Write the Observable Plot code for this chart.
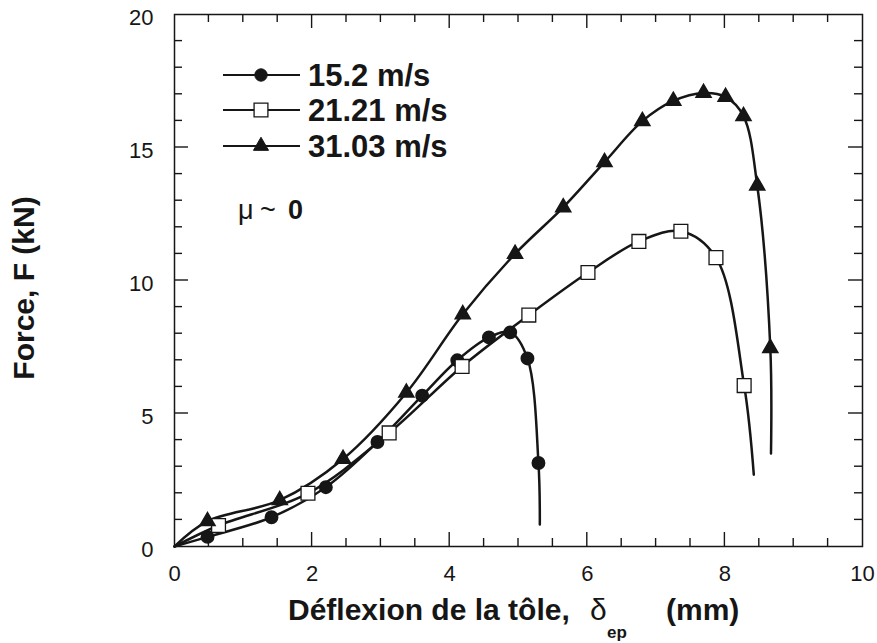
<!DOCTYPE html>
<html><head><meta charset="utf-8">
<script src="https://cdn.jsdelivr.net/npm/d3@7"></script>
<script src="https://cdn.jsdelivr.net/npm/@observablehq/plot@0.6"></script>
<style>body{margin:0;background:#fff} svg{display:block}</style>
</head><body><div id="chart"></div>
<script>
// ---- data ----
const seriesNames = ["15.2 m/s", "21.21 m/s", "31.03 m/s"];

// 15.2 m/s  (filled circles)
const defl152  = [0, 0.48, 1.41, 2.20, 2.95, 3.60, 4.11, 4.57, 4.88, 5.13, 5.29, 5.31];
const force152 = [0, 0.36, 1.10, 2.23, 3.93, 5.67, 7.00, 7.86, 8.05, 7.07, 3.14, 0.83];
const mark152  = [0, 1, 1, 1, 1, 1, 1, 1, 1, 1, 1, 0];

// 21.21 m/s (open squares)
const defl2121  = [0, 0.64, 1.94, 3.12, 4.18, 5.15, 6.01, 6.75, 7.36, 7.87, 8.28, 8.42];
const force2121 = [0, 0.79, 2.00, 4.27, 6.77, 8.70, 10.30, 11.47, 11.85, 10.86, 6.05, 2.70];
const mark2121  = [0, 1, 1, 1, 1, 1, 1, 1, 1, 1, 1, 0];

// 31.03 m/s (filled triangles)
const defl3103  = [0, 0.48, 1.53, 2.45, 3.37, 4.19, 4.95, 5.65, 6.25, 6.80, 7.25, 7.69, 8.01, 8.27, 8.47, 8.66, 8.67];
const force3103 = [0, 0.95, 1.74, 3.29, 5.78, 8.73, 11.00, 12.75, 14.45, 15.99, 16.75, 17.05, 16.90, 16.18, 13.57, 7.46, 3.50];
const mark3103  = [0, 1, 1, 1, 1, 1, 1, 1, 1, 1, 1, 1, 1, 1, 1, 1, 0];

// axis ticks
const xMajor = [0, 2, 4, 6, 8, 10];
const xMinor = [0.5, 1, 1.5, 2.5, 3, 3.5, 4.5, 5, 5.5, 6.5, 7, 7.5, 8.5, 9, 9.5];
const yMajor = [0, 5, 10, 15, 20];
const yMinor = [1, 2, 3, 4, 6, 7, 8, 9, 11, 12, 13, 14, 16, 17, 18, 19];

// ---- build table ----
const raw = [[defl152, force152, mark152], [defl2121, force2121, mark2121], [defl3103, force3103, mark3103]];
const rows = [];
raw.forEach(([xs, ys, ms], i) => xs.forEach((x, j) => rows.push({s: seriesNames[i], x, y: ys[j], m: ms[j]})));

const ink = "#161616";
const W = 877, H = 643, ML = 174, MR = 15, MT = 14, MB = 97;

const dotOpts = [
  {symbol: "circle", r: 6.2, fill: ink, stroke: ink},
  {symbol: "square", r: 7.8, fill: "white", stroke: ink, strokeWidth: 1.3},
  {symbol: "triangle", r: 5.6, fill: ink, stroke: ink}
];

const chart = Plot.plot({
  width: W, height: H,
  marginLeft: ML, marginRight: MR, marginTop: MT, marginBottom: MB,
  style: {fontFamily: "'Liberation Sans', Arial, sans-serif", fontSize: "22px", background: "white", color: ink},
  x: {domain: [0, 10]},
  y: {domain: [0, 20]},
  marks: [
    Plot.axisX({ticks: xMajor, anchor: "bottom", tickSize: 0, tickPadding: 19, fontSize: 22, label: null}),
    Plot.axisY({ticks: yMajor, anchor: "left", tickSize: 0, tickPadding: 21, fontSize: 22, label: null, dy: 3}),
    Plot.line(rows, {x: "x", y: "y", z: "s", curve: "catmull-rom", stroke: ink, strokeWidth: 2.5}),
    ...seriesNames.map((name, i) => Plot.dot(rows.filter(d => d.s === name && d.m), {x: "x", y: "y", ...dotOpts[i]})),
    Plot.frame({stroke: ink, strokeWidth: 1.5})
  ]
});
document.getElementById("chart").appendChild(chart);

// ---- inward tick marks on all four sides, positioned with Plot's own scales ----
const sx = chart.scale("x"), sy = chart.scale("y");
const x0 = ML, x1 = W - MR, y0 = H - MB, y1 = MT;
const svg = d3.select(chart);
const tg = svg.append("g").attr("stroke", ink).attr("stroke-width", 1.4);
const addX = (vals, len) => vals.filter(v => v > 0 && v < 10).forEach(v => {
  const px = sx.apply(v);
  tg.append("line").attr("x1", px).attr("x2", px).attr("y1", y0).attr("y2", y0 - len);
  tg.append("line").attr("x1", px).attr("x2", px).attr("y1", y1).attr("y2", y1 + len);
});
const addY = (vals, len) => vals.filter(v => v > 0 && v < 20).forEach(v => {
  const py = sy.apply(v);
  tg.append("line").attr("y1", py).attr("y2", py).attr("x1", x0).attr("x2", x0 + len);
  tg.append("line").attr("y1", py).attr("y2", py).attr("x1", x1).attr("x2", x1 - len);
});
addX(xMinor, 8); addX(xMajor, 14); addY(yMinor, 8); addY(yMajor, 14);

// ---- legend, annotation and axis titles ----
const g = svg.append("g").attr("fill", ink).attr("text-anchor", "start")
  .attr("font-family", "'Liberation Sans', Arial, sans-serif");
const legendRows = [75, 110, 146];
const symArea = r => Math.PI * r * r;
const d3sym = {circle: d3.symbolCircle, square: d3.symbolSquare, triangle: d3.symbolTriangle};
seriesNames.forEach((name, i) => {
  const y = legendRows[i];
  g.append("line").attr("x1", 223).attr("x2", 300).attr("y1", y).attr("y2", y).attr("stroke", ink).attr("stroke-width", 2.2);
  const o = dotOpts[i];
  g.append("path").attr("transform", `translate(261,${y})`)
    .attr("d", d3.symbol(d3sym[o.symbol], symArea(o.r))())
    .attr("fill", o.fill).attr("stroke", o.stroke).attr("stroke-width", o.strokeWidth || 1);
  g.append("text").attr("x", 308).attr("y", y + 11).attr("font-size", 31).attr("font-weight", "bold").text(name);
});

const mu = g.append("text").attr("y", 219).attr("font-size", 27);
mu.append("tspan").attr("x", 238).text("\u03BC");
mu.append("tspan").attr("x", 260).text("~");
mu.append("tspan").attr("x", 288).attr("font-weight", "bold").text("0");

const xl = g.append("text").attr("y", 620).attr("font-size", 30).attr("font-weight", "bold");
xl.append("tspan").attr("x", 288).text("Déflexion de la tôle,");
xl.append("tspan").attr("x", 590).attr("font-weight", "normal").attr("font-size", 30).text("\u03B4");
xl.append("tspan").attr("x", 607).attr("y", 638).attr("font-size", 17).text("ep");
xl.append("tspan").attr("x", 666).attr("y", 620).text("(mm)");

g.append("text").attr("transform", "translate(34,288) rotate(-90)").attr("text-anchor", "middle")
  .attr("font-size", 30).attr("font-weight", "bold").text("Force, F (kN)");
</script></body></html>
